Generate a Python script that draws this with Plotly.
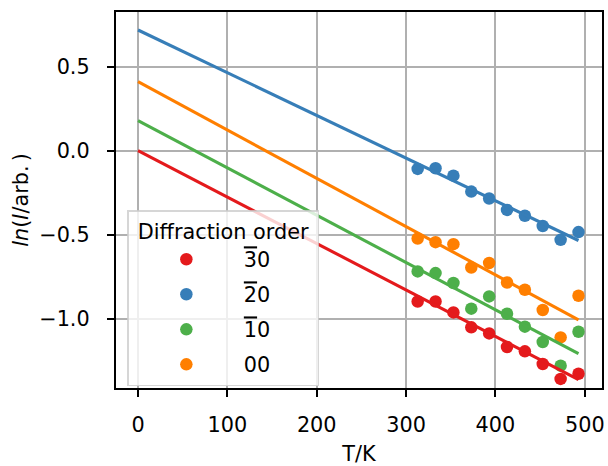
import plotly.graph_objects as go

# Temperatures (K)
T = [313, 333, 353, 373, 393, 413, 433, 453, 473, 493]

# ln(I/arb.) per diffraction order
y_m30 = [-0.898, -0.898, -0.963, -1.052, -1.088, -1.169, -1.195, -1.270, -1.359, -1.328]
y_m20 = [-0.109, -0.105, -0.149, -0.244, -0.285, -0.353, -0.388, -0.449, -0.531, -0.485]
y_m10 = [-0.719, -0.729, -0.788, -0.941, -0.868, -0.971, -1.048, -1.139, -1.280, -1.078]
y_00 = [-0.523, -0.545, -0.557, -0.696, -0.669, -0.785, -0.828, -0.949, -1.112, -0.864]

# Linear fit lines (endpoints)
fit_T = [0, 493]
fit_m30 = [0.000, -1.363]
fit_m20 = [0.718, -0.535]
fit_m10 = [0.178, -1.209]
fit_00 = [0.410, -1.007]

OL = '<span style="text-decoration:overline">{}</span>'
labels = [OL.format("3") + "0", OL.format("2") + "0", OL.format("1") + "0", "00"]
colors = ["#e41a1c", "#377eb8", "#4daf4a", "#ff7f00"]
series = [y_m30, y_m20, y_m10, y_00]
fits = [fit_m30, fit_m20, fit_m10, fit_00]

FONT = "DejaVu Sans"
FS = 20.8

fig = go.Figure()
for i, (lab, col, ys) in enumerate(zip(labels, colors, series)):
    fig.add_trace(go.Scatter(x=T, y=ys, mode="markers", name=lab, legendgroup=f"g{i}",
                             marker=dict(color=col, size=12.5, line=dict(width=0))))
for col, fy in zip(colors, fits):
    fig.add_trace(go.Scatter(x=fit_T, y=fy, mode="lines", showlegend=False,
                             line=dict(color=col, width=3.1), hoverinfo="skip"))

axis_common = dict(
    showline=True, linecolor="black", linewidth=1.67, mirror=True,
    showgrid=True, gridcolor="#b0b0b0", gridwidth=1.67,
    ticks="outside", ticklen=7.3, tickwidth=1.67, tickcolor="black",
    zeroline=False, tickfont=dict(family=FONT, size=FS, color="black"),
    automargin=False, ticklabeloverflow="allow",
)

fig.update_layout(
    width=608, height=466,
    margin=dict(l=116, r=6, t=12, b=78),
    paper_bgcolor="white", plot_bgcolor="white",
    font=dict(family=FONT, size=FS, color="black"),
    xaxis=dict(range=[-24.65, 519.3], tickvals=[0, 100, 200, 300, 400, 500],
               ticklabelstandoff=10,
               title=dict(text="T/K", font=dict(family=FONT, size=FS), standoff=17),
               **axis_common),
    yaxis=dict(range=[-1.413, 0.825], tickvals=[-1.0, -0.5, 0.0, 0.5],
               ticktext=["\u22121.0", "\u22120.5", "0.0", "0.5"],
               ticklabelstandoff=13,
               title=dict(text="<i>ln</i>(<i>I</i>/arb.\u2009)", font=dict(family=FONT, size=FS), standoff=5),
               **axis_common),
    legend=dict(
        x=0.023, y=0.004, xanchor="left", yanchor="bottom",
        bgcolor="rgba(255,255,255,0.8)", bordercolor="rgba(204,204,204,0.8)", borderwidth=1.67,
        title=dict(text="\u00a0Diffraction order\u00a0", side="top center",
                   font=dict(family=FONT, size=FS)),
        font=dict(family=FONT, size=FS),
        itemwidth=105, tracegroupgap=5,
    ),
    showlegend=True,
)

fig.write_html("out.html", config={"displayModeBar": False},
               post_script="document.body.style.margin='0';")
